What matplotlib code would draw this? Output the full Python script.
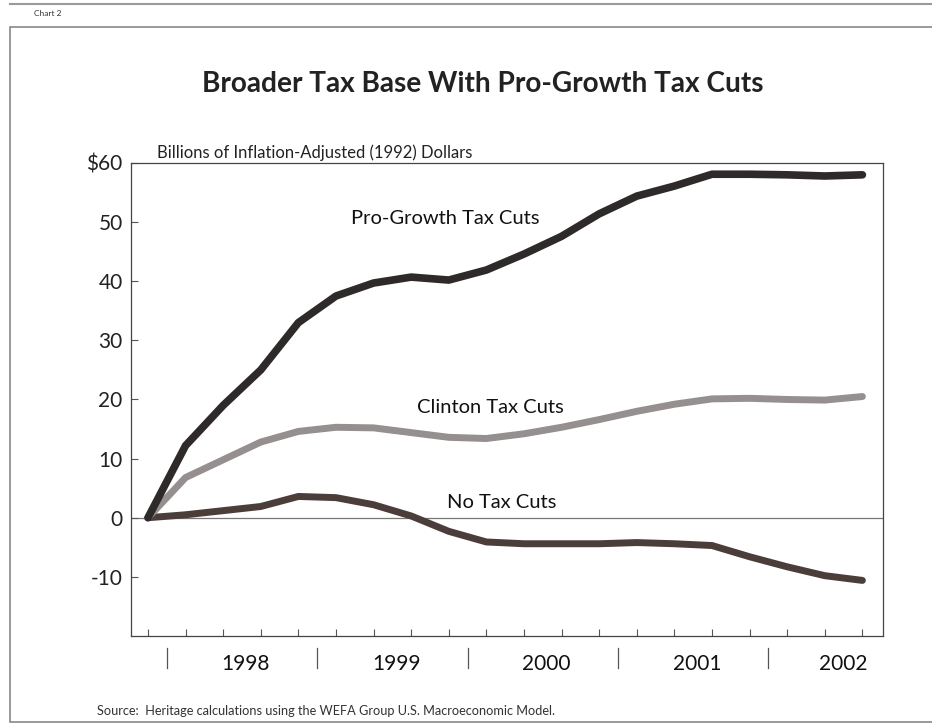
import matplotlib.pyplot as plt
import numpy as np
from matplotlib.transforms import blended_transform_factory

plt.rcParams['font.family'] = ['Lato', 'DejaVu Sans']

# quarterly points, 1997 Q4 through 2002 Q3 (billions, 1992 dollars)
quarters = np.arange(20)
pro_growth = [0, 12.2, 19.0, 25.0, 33.0, 37.5, 39.7, 40.7, 40.2, 41.9,
              44.6, 47.6, 51.4, 54.4, 56.1, 58.1, 58.1, 58.0, 57.8, 58.0]
clinton = [0, 6.8, 9.8, 12.8, 14.6, 15.3, 15.2, 14.4, 13.6, 13.4,
           14.2, 15.3, 16.6, 18.0, 19.2, 20.1, 20.2, 20.0, 19.9, 20.5]
no_cuts = [0, 0.5, 1.2, 1.9, 3.6, 3.4, 2.2, 0.3, -2.3, -4.1,
           -4.4, -4.4, -4.4, -4.2, -4.4, -4.7, -6.6, -8.3, -9.8, -10.6]

years = ['1998', '1999', '2000', '2001', '2002']
year_centers = [2.6, 6.6, 10.6, 14.6, 18.5]
year_breaks = [0.5, 4.5, 8.5, 12.5, 16.5]
yticks = [-10, 0, 10, 20, 30, 40, 50, 60]
ytick_labels = ['-10', '0', '10', '20', '30', '40', '50', '$60']

fig = plt.figure(figsize=(9.32, 7.28), dpi=100)
ax = fig.add_axes([0.1406, 0.1264, 0.8069, 0.6497])

ax.axhline(0, color='#777777', lw=0.9, zorder=1)
ax.plot(quarters, no_cuts, color='#4a3d3a', lw=5, solid_capstyle='round', zorder=3)
ax.plot(quarters, clinton, color='#958f8f', lw=5, solid_capstyle='round', zorder=3)
ax.plot(quarters, pro_growth, color='#2f2a2a', lw=5.5, solid_capstyle='round', zorder=4)

ax.set_xlim(-0.45, 19.55)
ax.set_ylim(-20, 60)
ax.set_yticks(yticks)
ax.set_yticklabels(ytick_labels, fontsize=15, color='#222222')
ax.set_xticks(quarters)
ax.set_xticklabels([])
ax.tick_params(axis='both', direction='in', length=5, width=0.8, color='#555555', pad=6)
for s in ax.spines.values():
    s.set_color('#444444')
    s.set_linewidth(0.9)

# year labels and separators under the axis
trans = blended_transform_factory(ax.transData, ax.transAxes)
for xb in year_breaks:
    ax.plot([xb, xb], [-0.025, -0.068], transform=trans, color='#555555',
            lw=0.9, clip_on=False)
for xc, yr in zip(year_centers, years):
    ax.text(xc, -0.06, yr, transform=trans, ha='center', va='center',
            fontsize=15, color='#111111')

# series labels
ax.text(7.9, 50.6, 'Pro-Growth Tax Cuts', ha='center', va='center', fontsize=14.5, color='#111111')
ax.text(9.1, 18.6, 'Clinton Tax Cuts', ha='center', va='center', fontsize=14.5, color='#111111')
ax.text(9.4, 2.5, 'No Tax Cuts', ha='center', va='center', fontsize=14.5, color='#111111')

ax.text(0.035, 1.005, 'Billions of Inflation-Adjusted (1992) Dollars', transform=ax.transAxes,
        ha='left', va='bottom', fontsize=12, color='#222222')

fig.text(0.518, 0.884, 'Broader Tax Base With Pro-Growth Tax Cuts', ha='center', va='center',
         fontsize=20.2, fontweight='bold', color='#222222')
fig.text(0.104, 0.023, 'Source:  Heritage calculations using the WEFA Group U.S. Macroeconomic Model.',
         ha='left', va='center', fontsize=9.2, color='#333333')
fig.text(0.036, 0.982, 'Chart 2', ha='left', va='center', fontsize=6, color='#333333')

# page frame
fig.add_artist(plt.Rectangle((0.011, 0.008), 0.99, 0.955, transform=fig.transFigure,
                             fill=False, edgecolor='#888888', lw=1.2))
fig.add_artist(plt.Line2D([0.011, 1.0], [0.995, 0.995], transform=fig.transFigure,
                          color='#999999', lw=1.5))

fig.savefig('out.png', dpi=100)
